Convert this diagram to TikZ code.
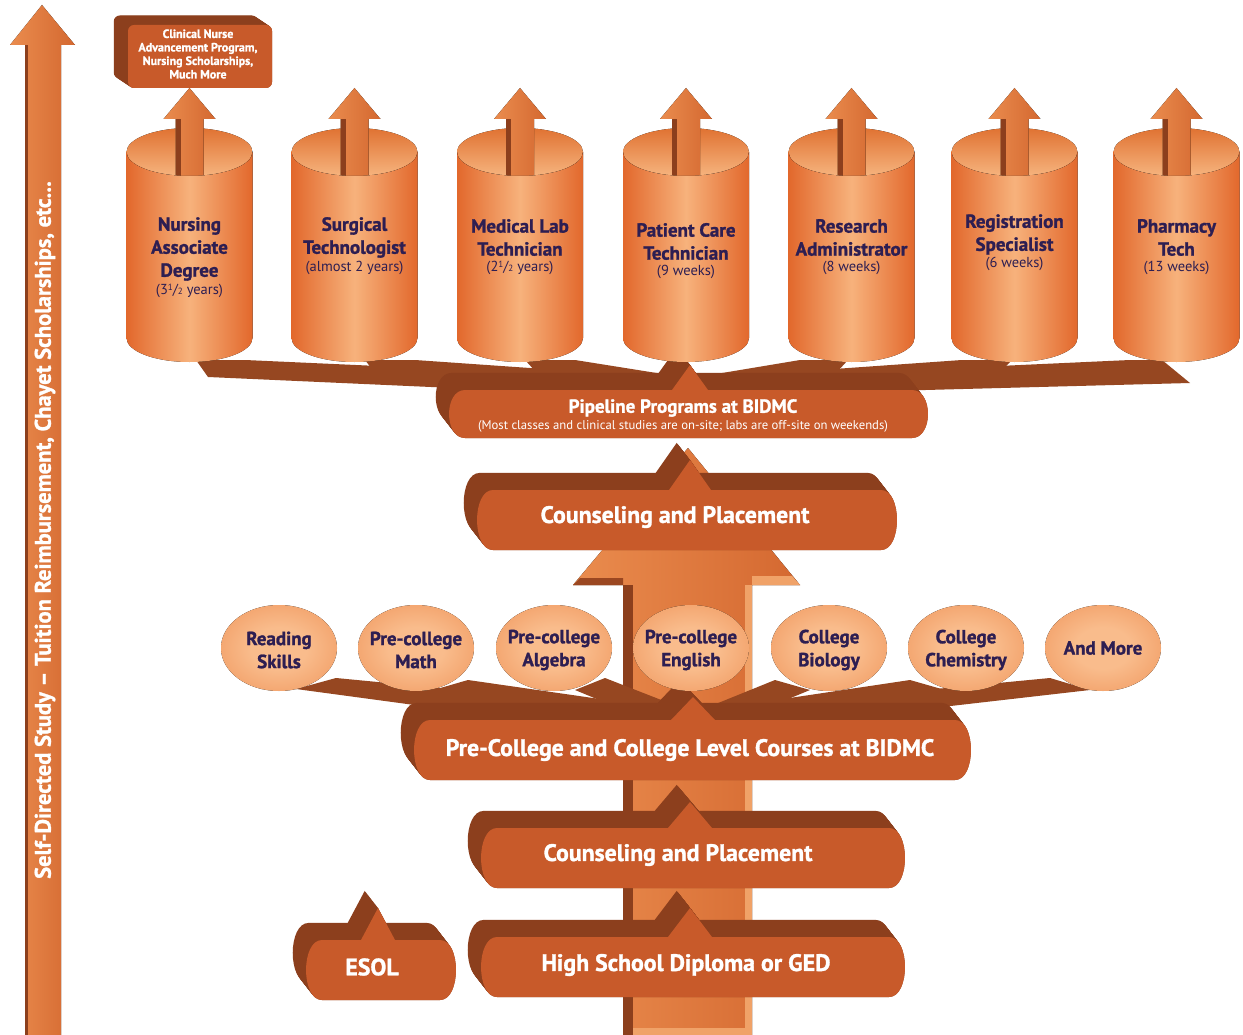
\documentclass[tikz,border=0pt]{standalone}
\usepackage{fontspec}
\setmainfont{PT Sans}[BoldFeatures={FakeBold=1.3}]
\definecolor{boxfront}{RGB}{200,90,42}
\definecolor{boxdark}{RGB}{140,63,29}
\definecolor{ribbon}{RGB}{150,71,33}
\definecolor{cylEdge}{RGB}{226,104,44}
\definecolor{cylMid}{RGB}{247,178,124}
\definecolor{cylInTop}{RGB}{224,114,50}
\definecolor{cylInBot}{RGB}{246,180,126}
\definecolor{navy}{RGB}{45,30,82}
\definecolor{arrowL}{RGB}{234,140,78}
\definecolor{arrowR}{RGB}{212,104,48}
\definecolor{arrowLight}{RGB}{240,162,104}
\definecolor{ellIn}{RGB}{249,188,140}
\definecolor{ellOut}{RGB}{234,128,64}
\pgfdeclareradialshading{ellshade}{\pgfpoint{0bp}{0bp}}{color(0bp)=(ellIn); color(12bp)=(ellIn); color(50bp)=(ellOut); color(100bp)=(ellOut)}
\newcommand\bxshape[8]{(#1,#3) -- (#6-#8,#3) -- (#6,#7) -- (#6+#8,#3) -- (#2,#3) .. controls (#2+1.33*#5,#3) and (#2+1.33*#5,#4) .. (#2,#4) -- (#1,#4) .. controls (#1-1.33*#5,#4) and (#1-1.33*#5,#3) .. (#1,#3) -- cycle}
\newcommand\extbox[8]{%
  \foreach \s in {0,0.05,...,1}{\fill[boxdark,shift={(-14*\s,-18*\s)}] \bxshape{#1}{#2}{#3}{#4}{#5}{#6}{#7}{#8};}
  \fill[boxfront] \bxshape{#1}{#2}{#3}{#4}{#5}{#6}{#7}{#8};}
\newcommand\cylinder[1]{%
  \fill[top color=cylInTop, bottom color=cylInBot] (#1,152) ellipse [x radius=63, y radius=24];
  \fill[left color=arrowL, right color=arrowR] (#1-14,190) -- (#1-14,119) -- (#1-26,119) -- (#1,88) -- (#1+26,119) -- (#1+14,119) -- (#1+14,190) -- cycle;
  \fill[boxdark] (#1-14,190) -- (#1-14,119) -- (#1-9,119) -- (#1-9,190) -- cycle;
  \fill[left color=cylEdge, right color=cylEdge, middle color=cylMid] (#1-63,152) arc[start angle=180,end angle=0,x radius=63,y radius=24] -- (#1+63,338) arc[start angle=0,end angle=180,x radius=63,y radius=24] -- cycle;}
\newcommand\ellipsenode[1]{\fill[shading=ellshade] (#1,648) ellipse [x radius=58, y radius=43];}
\tikzset{
  cyltitle/.style={text=navy, font=\fontsize{19}{23}\selectfont\bfseries, align=center, inner sep=0},
  cylsub/.style={text=navy, font=\fontsize{14.5}{16}\selectfont, inner sep=0},
  elltext/.style={text=navy, font=\fontsize{19}{23}\selectfont\bfseries, align=center, inner sep=0},
  boxtext/.style={text=white, font=\fontsize{23.8}{26}\selectfont\bfseries, inner sep=0},
}
\newcommand\halfof[1]{#1{\fontsize{9}{9}\selectfont\raisebox{4.5pt}{1}}/{\fontsize{9}{9}\selectfont 2}}
\begin{document}
\begin{tikzpicture}[x=1pt,y=-1pt]
\useasboundingbox (0,0) rectangle (1243,1035);
\fill[white] (0,0) rectangle (1243,1035);
% left vertical arrow
\fill[left color=arrowL, right color=arrowR] (25,1035) -- (25,45) -- (10,45) -- (42,5) -- (75,45) -- (61,45) -- (61,1035) -- cycle;
\fill[boxdark] (25,45) rectangle (28,1035);
\node[rotate=90, text=white, font=\fontsize{22.5}{24}\selectfont\bfseries, inner sep=0] (side) at (45,530) {Self-Directed Study – Tuition Reimbursement, Chayet Scholarships, etc...};
% top-left box
\foreach \s in {0,0.05,...,1}{\fill[boxdark, rounded corners=6, shift={(-15*\s,-10*\s)}] (128,25) rectangle (272,88);}
\fill[boxfront, rounded corners=6] (128,25) rectangle (272,88);
\node[text=white, font=\fontsize{12}{13.5}\selectfont\bfseries, align=center, inner sep=0] (cnap) at (198,54) {Clinical Nurse\\Advancement Program,\\Nursing Scholarships,\\Much More};
% central big arrow
\fill[left color=arrowL, right color=arrowR] (623,1035) -- (623,585) -- (573,585) -- (688,448) -- (800,585) -- (752,585) -- (752,1035) -- cycle;
\fill[boxdark] (623,585) rectangle (633,1035);
\fill[arrowLight] (745,585) rectangle (752,1035);
\fill[arrowLight] (752,585) -- (800,585) -- (792,576) -- (752,576) -- cycle;
\fill[boxdark!80!arrowR] (573,585) -- (623,585) -- (623,578) -- (580,578) -- cycle;
\fill[arrowLight] (633,1028) rectangle (745,1035);
% ribbons to pipeline
\fill[ribbon] (196,360) -- (208,377) -- (520,391) -- (688,388) -- (688,380) -- (245,360) -- cycle;
\fill[ribbon] (365,360) -- (375,373) -- (610,390) -- (688,386) -- (688,379) -- (415,360) -- cycle;
\fill[ribbon] (525,360) -- (536,372) -- (660,390) -- (688,385) -- (688,378) -- (575,360) -- cycle;
\fill[ribbon] (848,360) -- (837,372) -- (715,390) -- (692,385) -- (692,378) -- (800,360) -- cycle;
\fill[ribbon] (1012,360) -- (1000,372) -- (765,391) -- (692,386) -- (692,379) -- (962,360) -- cycle;
\fill[ribbon] (1162,360) -- (1190,383) -- (850,392) -- (692,388) -- (692,380) -- (1130,360) -- cycle;
% pipeline box
\extbox{465}{912}{390}{438}{16}{690}{365}{18}
\node[text=white, font=\fontsize{19}{20}\selectfont\bfseries, inner sep=0] (pipe) at (683,408) {Pipeline Programs at BIDMC};
\node[text=white, font=\fontsize{12.7}{15}\selectfont, inner sep=0] (pipesub) at (683,426) {(Most classes and clinical studies are on-site; labs are off-site on weekends)};
% cylinders
\cylinder{189.5}\cylinder{354.5}\cylinder{520}\cylinder{686}\cylinder{851.5}\cylinder{1014.5}\cylinder{1176.5}
\node[cyltitle] (c1) at (189.5,249) {Nursing\\Associate\\Degree};
\node[cylsub] (c1s) at (189.5,291) {(\halfof{3} years)};
\node[cyltitle] (c2) at (354.5,237.5) {Surgical\\Technologist};
\node[cylsub] (c2s) at (354.5,268) {(almost 2 years)};
\node[cyltitle] (c3) at (520,237.5) {Medical Lab\\Technician};
\node[cylsub] (c3s) at (520,268) {(\halfof{2} years)};
\node[cyltitle] (c4) at (686,241.5) {Patient Care\\Technician};
\node[cylsub] (c4s) at (686,272) {(9 weeks)};
\node[cyltitle] (c5) at (851.5,237.5) {Research\\Administrator};
\node[cylsub] (c5s) at (851.5,268) {(8 weeks)};
\node[cyltitle] (c6) at (1014.5,234.5) {Registration\\Specialist};
\node[cylsub] (c6s) at (1014.5,264) {(6 weeks)};
\node[cyltitle] (c7) at (1176.5,237.5) {Pharmacy\\Tech};
\node[cylsub] (c7s) at (1176.5,268) {(13 weeks)};
% counseling 1
\extbox{493}{881}{490}{550}{16}{690}{460}{21}
\node[boxtext] (cp1) at (675,517) {Counseling and Placement};
% ribbons to pre-college
\fill[ribbon] (296,689) -- (336,678) -- (690,712) -- (690,721) -- (533,721) -- cycle;
\fill[ribbon] (430,691) -- (468,680) -- (690,712) -- (690,721) -- (610,721) -- cycle;
\fill[ribbon] (575,690) -- (605,678) -- (692,712) -- (692,721) -- (650,721) -- cycle;
\fill[ribbon] (810,690) -- (775,680) -- (696,712) -- (696,721) -- (735,721) -- cycle;
\fill[ribbon] (945,690) -- (910,680) -- (696,712) -- (696,721) -- (770,721) -- cycle;
\fill[ribbon] (1090,690) -- (1050,678) -- (696,712) -- (696,721) -- (820,721) -- cycle;
% pre-college box
\extbox{430}{955}{720}{780}{16}{693}{697}{22}
\node[boxtext] (pcc) at (690,750) {Pre-College and College Level Courses at BIDMC};
% ellipses
\ellipsenode{279}\ellipsenode{416}\ellipsenode{554}\ellipsenode{691}\ellipsenode{829}\ellipsenode{966}\ellipsenode{1103}
\node[elltext] (e1) at (279,650) {Reading\\Skills};
\node[elltext] (e2) at (416,650) {Pre-college\\Math};
\node[elltext] (e3) at (554,650) {Pre-college\\Algebra};
\node[elltext] (e4) at (691,650) {Pre-college\\English};
\node[elltext] (e5) at (829,650) {College\\Biology};
\node[elltext] (e6) at (966,650) {College\\Chemistry};
\node[elltext] (e7) at (1103,648) {And More};
% counseling 2
\extbox{497}{889}{828}{888}{16}{690}{802}{22}
\node[boxtext] (cp2) at (678,855) {Counseling and Placement};
% high school
\extbox{497}{889}{937}{997}{16}{690}{908}{22}
\node[boxtext] (hs) at (686,965) {High School Diploma or GED};
% ESOL
\extbox{322}{440}{940}{1000}{16}{378}{908}{17}
\node[boxtext] (esol) at (372,967) {ESOL};
\end{tikzpicture}
\end{document}
